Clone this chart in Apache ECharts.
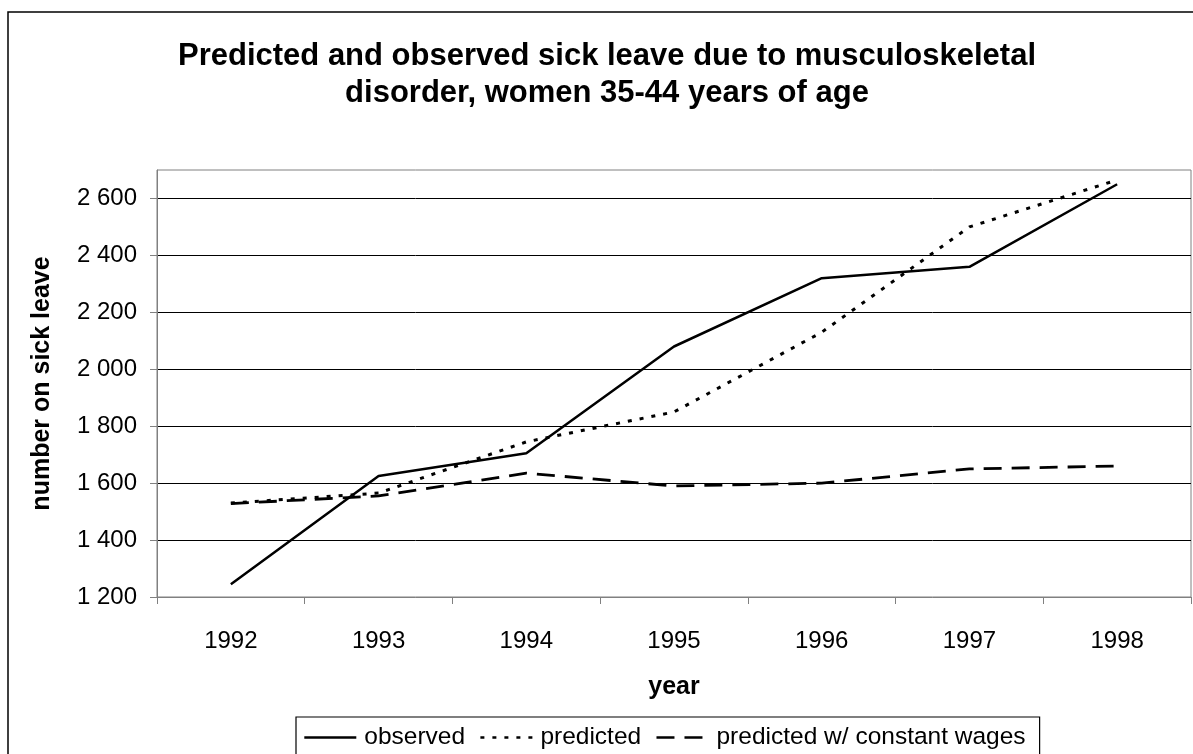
<!DOCTYPE html>
<html>
<head>
<meta charset="utf-8">
<script src="https://cdn.jsdelivr.net/npm/echarts@6/dist/echarts.min.js"></script>
<style>html,body{margin:0;padding:0;background:#fff}#c{width:1193px;height:754px}</style>
</head>
<body>
<div id="c"></div>
<script>
const years = ['1992','1993','1994','1995','1996','1997','1998'];
const observed = [1245, 1625, 1705, 2080, 2320, 2360, 2650];
const predicted = [1530, 1565, 1745, 1850, 2130, 2500, 2665];
const constantWages = [1528, 1555, 1635, 1590, 1600, 1650, 1660];
const yTicks = [1200, 1400, 1600, 1800, 2000, 2200, 2400, 2600];
const seriesNames = ['observed', 'predicted', 'predicted w/ constant wages'];
const titleText = 'Predicted and observed sick leave due to musculoskeletal\ndisorder, women 35-44 years of age';

const FONT = '"Liberation Sans", Arial, sans-serif';
const fmt = v => String(v).replace(/\B(?=(\d{3})+(?!\d))/g, ' ');

const chart = echarts.init(document.getElementById('c'), null, {renderer: 'canvas'});
chart.setOption({
  backgroundColor: '#fff',
  animation: false,
  textStyle: {fontFamily: FONT, color: '#000'},
  graphic: [{
    type: 'rect', z: -10, silent: true,
    shape: {x: 8, y: 12, width: 1300, height: 900},
    style: {fill: 'none', stroke: '#000', lineWidth: 1.5}
  }],
  title: {
    text: titleText,
    left: 607, top: 38, padding: 0,
    textAlign: 'center',
    textStyle: {fontFamily: FONT, fontSize: 31, fontWeight: 'bold', color: '#000', lineHeight: 37}
  },
  legend: {
    data: seriesNames,
    left: 296, top: 717,
    padding: [8, 14, 14, 7],
    itemGap: 14, itemWidth: 52, itemHeight: 14,
    borderColor: '#000', borderWidth: 1.2, borderRadius: 0,
    backgroundColor: '#fff',
    itemStyle: {opacity: 0, borderWidth: 0},
    lineStyle: {width: 2.6},
    textStyle: {fontFamily: FONT, fontSize: 24.5, color: '#000', padding: [0,0,0,3]}
  },
  grid: {
    left: 157, right: 2, top: 170, bottom: 157,
    show: true, borderColor: '#808080', borderWidth: 1, backgroundColor: 'transparent'
  },
  xAxis: {
    type: 'category',
    data: years,
    boundaryGap: true,
    name: 'year',
    nameLocation: 'middle',
    nameGap: 78,
    nameTextStyle: {fontFamily: FONT, fontSize: 25, fontWeight: 'bold', color: '#000'},
    axisLine: {lineStyle: {color: '#808080', width: 1}},
    axisTick: {show: true, alignWithLabel: false, length: 7, inside: false, lineStyle: {color: '#808080'}},
    axisLabel: {fontFamily: FONT, fontSize: 24, color: '#000', margin: 32},
    splitLine: {show: false}
  },
  yAxis: {
    type: 'value',
    min: 1200, max: 2700, interval: 200,
    name: 'number on sick leave',
    nameLocation: 'middle',
    nameGap: 102,
    nameRotate: 90,
    nameTextStyle: {fontFamily: FONT, fontSize: 25, fontWeight: 'bold', color: '#000'},
    axisLine: {show: true, lineStyle: {color: '#808080', width: 1}},
    axisTick: {show: true, length: 7, lineStyle: {color: '#808080'}, customValues: yTicks},
    axisLabel: {fontFamily: FONT, fontSize: 24, color: '#000', margin: 20, formatter: fmt, customValues: yTicks},
    splitLine: {show: true, showMinLine: false, lineStyle: {color: '#000', width: 1}}
  },
  series: [
    {name: seriesNames[0], type: 'line', data: observed, symbol: 'none', smooth: false,
     lineStyle: {color: '#000', width: 2.5, type: 'solid'}, itemStyle: {color: '#000'}},
    {name: seriesNames[1], type: 'line', data: predicted, symbol: 'none', smooth: false,
     lineStyle: {color: '#000', width: 3, type: [4, 8]}, itemStyle: {color: '#000'}},
    {name: seriesNames[2], type: 'line', data: constantWages, symbol: 'none', smooth: false,
     lineStyle: {color: '#000', width: 2.8, type: [18, 10]}, itemStyle: {color: '#000'}}
  ]
});
</script>
</body>
</html>
